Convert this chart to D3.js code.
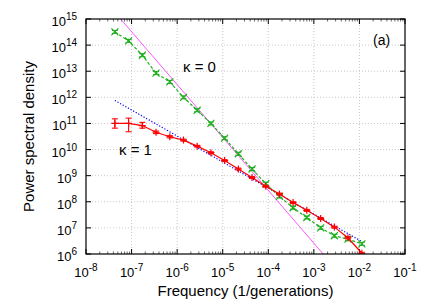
<!DOCTYPE html>
<html>
<head>
<meta charset="utf-8">
<script src="https://cdn.jsdelivr.net/npm/d3@7"></script>
<style>
  body { margin: 0; background: #fff; }
  text { font-family: "Liberation Sans", Arial, sans-serif; fill: #000; }
</style>
</head>
<body>
<div id="chart"></div>
<script>
// frequencies (1/generations), shared by both series
const freq = [4.3e-8, 8.6e-8, 1.72e-7, 3.44e-7, 6.9e-7, 1.38e-6, 2.75e-6, 5.5e-6, 1.1e-5, 2.2e-5,
              4.4e-5, 8.8e-5, 1.76e-4, 3.5e-4, 7.0e-4, 1.41e-3, 2.82e-3, 5.6e-3, 1.13e-2];

// kappa = 0
const psd0 = [3.2e14, 1.45e14, 4.1e13, 8.5e12, 3.9e12, 1.0e12, 3.2e11, 1.0e11, 2.75e10, 6.9e9,
              1.8e9, 4.9e8, 1.6e8, 5.9e7, 2.5e7, 1.0e7, 5.0e6, 3.7e6, 2.45e6];
const psd0Lo = [2.8e14, 1.27e14, 3.6e13, 7.4e12, 3.4e12, 8.8e11, 2.8e11, 8.8e10, 2.4e10, 6.0e9,
                1.57e9, 4.3e8, 1.4e8, 5.2e7, 2.2e7, 8.8e6, 4.4e6, 3.25e6, 2.15e6];
const psd0Hi = [3.65e14, 1.65e14, 4.7e13, 9.7e12, 4.45e12, 1.14e12, 3.65e11, 1.14e11, 3.1e10, 7.9e9,
                2.05e9, 5.6e8, 1.82e8, 6.7e7, 2.85e7, 1.14e7, 5.7e6, 4.2e6, 2.8e6];

// kappa = 1
const psd1 = [1.0e11, 1.0e11, 8.3e10, 4.6e10, 3.1e10, 2.3e10, 1.35e10, 7.6e9, 3.8e9, 1.8e9,
              8.5e8, 3.9e8, 2.0e8, 9.3e7, 4.7e7, 2.3e7, 1.07e7, 4.2e6, 1.07e6];
const psd1Lo = [6.6e10, 4.8e10, 6.6e10, 4.1e10, 2.8e10, 2.1e10, 1.25e10, 7.0e9, 3.5e9, 1.65e9,
                7.8e8, 3.6e8, 1.85e8, 8.6e7, 4.3e7, 2.1e7, 9.8e6, 3.8e6, 9.8e5];
const psd1Hi = [1.5e11, 1.6e11, 1.1e11, 5.1e10, 3.4e10, 2.5e10, 1.45e10, 8.2e9, 4.1e9, 1.95e9,
                9.2e8, 4.2e8, 2.15e8, 1.0e8, 5.1e7, 2.5e7, 1.16e7, 4.6e6, 1.16e6];

// power-law guide lines (end points)
const fitF2 = [5.75e-8, 1.6e-3];
const fitP2 = [1e15, 1e6];
const fitF1 = [4.3e-8, 1.13e-2];
const fitP1 = [7.6e11, 3.0e6];

const xTicks = [1e-8, 1e-7, 1e-6, 1e-5, 1e-4, 1e-3, 1e-2, 1e-1];
const yTicks = [1e6, 1e7, 1e8, 1e9, 1e10, 1e11, 1e12, 1e13, 1e14, 1e15];

const W = 436, H = 305;
const margin = { top: 19, right: 31, bottom: 51, left: 86 };
const width = W - margin.left - margin.right;
const height = H - margin.top - margin.bottom;

const svg = d3.select("#chart").append("svg")
    .attr("width", W)
    .attr("height", H);

const g = svg.append("g")
    .attr("transform", `translate(${margin.left}, ${margin.top})`);

const x = d3.scaleLog().domain([1e-8, 1e-1]).range([0, width]);
const y = d3.scaleLog().domain([1e6, 1e15]).range([height, 0]);

svg.append("defs").append("clipPath").attr("id", "clip")
    .append("rect").attr("width", width).attr("height", height);

// grid
g.append("g").selectAll("line").data(xTicks.slice(1, -1)).join("line")
    .attr("x1", d => x(d)).attr("x2", d => x(d))
    .attr("y1", 0).attr("y2", height)
    .attr("stroke", "#bbb").attr("stroke-width", 0.8).attr("stroke-dasharray", "1,2");
g.append("g").selectAll("line").data(yTicks.slice(1, -1)).join("line")
    .attr("y1", d => y(d)).attr("y2", d => y(d))
    .attr("x1", 0).attr("x2", width)
    .attr("stroke", "#bbb").attr("stroke-width", 0.8).attr("stroke-dasharray", "1,2");

// ticks: major inward on all sides, minor on x
const minorX = [];
xTicks.slice(0, -1).forEach(t => { for (let m = 2; m <= 9; m++) minorX.push(t * m); });

const tickG = g.append("g").attr("stroke", "#000").attr("stroke-width", 1);
tickG.selectAll(".mx").data(xTicks).join("line")
    .attr("x1", d => x(d)).attr("x2", d => x(d)).attr("y1", height).attr("y2", height - 5);
tickG.selectAll(".mxt").data(xTicks).join("line")
    .attr("x1", d => x(d)).attr("x2", d => x(d)).attr("y1", 0).attr("y2", 5);
tickG.selectAll(".nx").data(minorX).join("line")
    .attr("x1", d => x(d)).attr("x2", d => x(d)).attr("y1", height).attr("y2", height - 2.5)
    .attr("stroke-width", 0.6);
tickG.selectAll(".nxt").data(minorX).join("line")
    .attr("x1", d => x(d)).attr("x2", d => x(d)).attr("y1", 0).attr("y2", 2.5)
    .attr("stroke-width", 0.6);
tickG.selectAll(".my").data(yTicks).join("line")
    .attr("y1", d => y(d)).attr("y2", d => y(d)).attr("x1", 0).attr("x2", 5);
tickG.selectAll(".myr").data(yTicks).join("line")
    .attr("y1", d => y(d)).attr("y2", d => y(d)).attr("x1", width).attr("x2", width - 5);

// tick labels with superscripts
const expOf = d => Math.round(Math.log10(d));
const xl = g.append("g").selectAll("text").data(xTicks).join("text")
    .attr("x", d => x(d)).attr("y", height + 23)
    .attr("text-anchor", "middle").attr("font-size", 13);
xl.append("tspan").text("10");
xl.append("tspan").attr("dy", -6).attr("font-size", 10).text(d => expOf(d));

const yl = g.append("g").selectAll("text").data(yTicks).join("text")
    .attr("x", -9).attr("y", d => y(d) + 7)
    .attr("text-anchor", "end").attr("font-size", 13);
yl.append("tspan").text("10");
yl.append("tspan").attr("dy", -6).attr("font-size", 10).text(d => expOf(d));

// axis titles
g.append("text")
    .attr("x", width / 2).attr("y", height + 42)
    .attr("text-anchor", "middle").attr("font-size", 15)
    .text("Frequency (1/generations)");
g.append("text")
    .attr("transform", `translate(${-52}, ${height / 2}) rotate(-90)`)
    .attr("text-anchor", "middle").attr("font-size", 15)
    .text("Power spectral density");

const plot = g.append("g").attr("clip-path", "url(#clip)");

// guide lines
const line = d3.line().x(d => x(d[0])).y(d => y(d[1]));
plot.append("path")
    .datum(d3.zip(fitF2, fitP2))
    .attr("fill", "none").attr("stroke", "#ff55ff").attr("stroke-width", 1)
    .attr("d", line);
plot.append("path")
    .datum(d3.zip(fitF1, fitP1))
    .attr("fill", "none").attr("stroke", "#0000ff").attr("stroke-width", 1.2)
    .attr("stroke-dasharray", "1.2,1.8")
    .attr("d", line);

// series
const drawSeries = (vals, lo, hi, color, dash, marker) => {
    const pts = freq.map((f, i) => ({ f, v: vals[i], lo: lo[i], hi: hi[i] }));
    const s = plot.append("g");
    s.append("path")
        .datum(pts)
        .attr("fill", "none").attr("stroke", color).attr("stroke-width", 1.2)
        .attr("stroke-dasharray", dash)
        .attr("d", d3.line().x(d => x(d.f)).y(d => y(d.v)));
    const eb = s.selectAll(".eb").data(pts).join("g")
        .attr("stroke", color).attr("stroke-width", 1.1);
    eb.append("line")
        .attr("x1", d => x(d.f)).attr("x2", d => x(d.f))
        .attr("y1", d => y(d.lo)).attr("y2", d => y(d.hi));
    eb.append("line")
        .attr("x1", d => x(d.f) - 3).attr("x2", d => x(d.f) + 3)
        .attr("y1", d => y(d.lo)).attr("y2", d => y(d.lo));
    eb.append("line")
        .attr("x1", d => x(d.f) - 3).attr("x2", d => x(d.f) + 3)
        .attr("y1", d => y(d.hi)).attr("y2", d => y(d.hi));
    const r = 3.5;
    s.selectAll(".mk").data(pts).join("path")
        .attr("fill", "none").attr("stroke", color).attr("stroke-width", 1.2)
        .attr("d", d => {
            const cx = x(d.f), cy = y(d.v);
            return marker === "x"
                ? `M${cx - r},${cy - r}L${cx + r},${cy + r}M${cx - r},${cy + r}L${cx + r},${cy - r}`
                : `M${cx - r},${cy}L${cx + r},${cy}M${cx},${cy - r}L${cx},${cy + r}`;
        });
};

drawSeries(psd0, psd0Lo, psd0Hi, "#22b022", "3,2", "x");
drawSeries(psd1, psd1Lo, psd1Hi, "#ff0000", null, "+");

// frame
g.append("rect")
    .attr("width", width).attr("height", height)
    .attr("fill", "none").attr("stroke", "#000").attr("stroke-width", 1.2);

// annotations
g.append("text").attr("x", 97).attr("y", 53).attr("font-size", 15).text("κ = 0");
g.append("text").attr("x", 33).attr("y", 136).attr("font-size", 15).text("κ = 1");
g.append("text").attr("x", 287).attr("y", 26).attr("font-size", 14).text("(a)");
</script>
</body>
</html>
